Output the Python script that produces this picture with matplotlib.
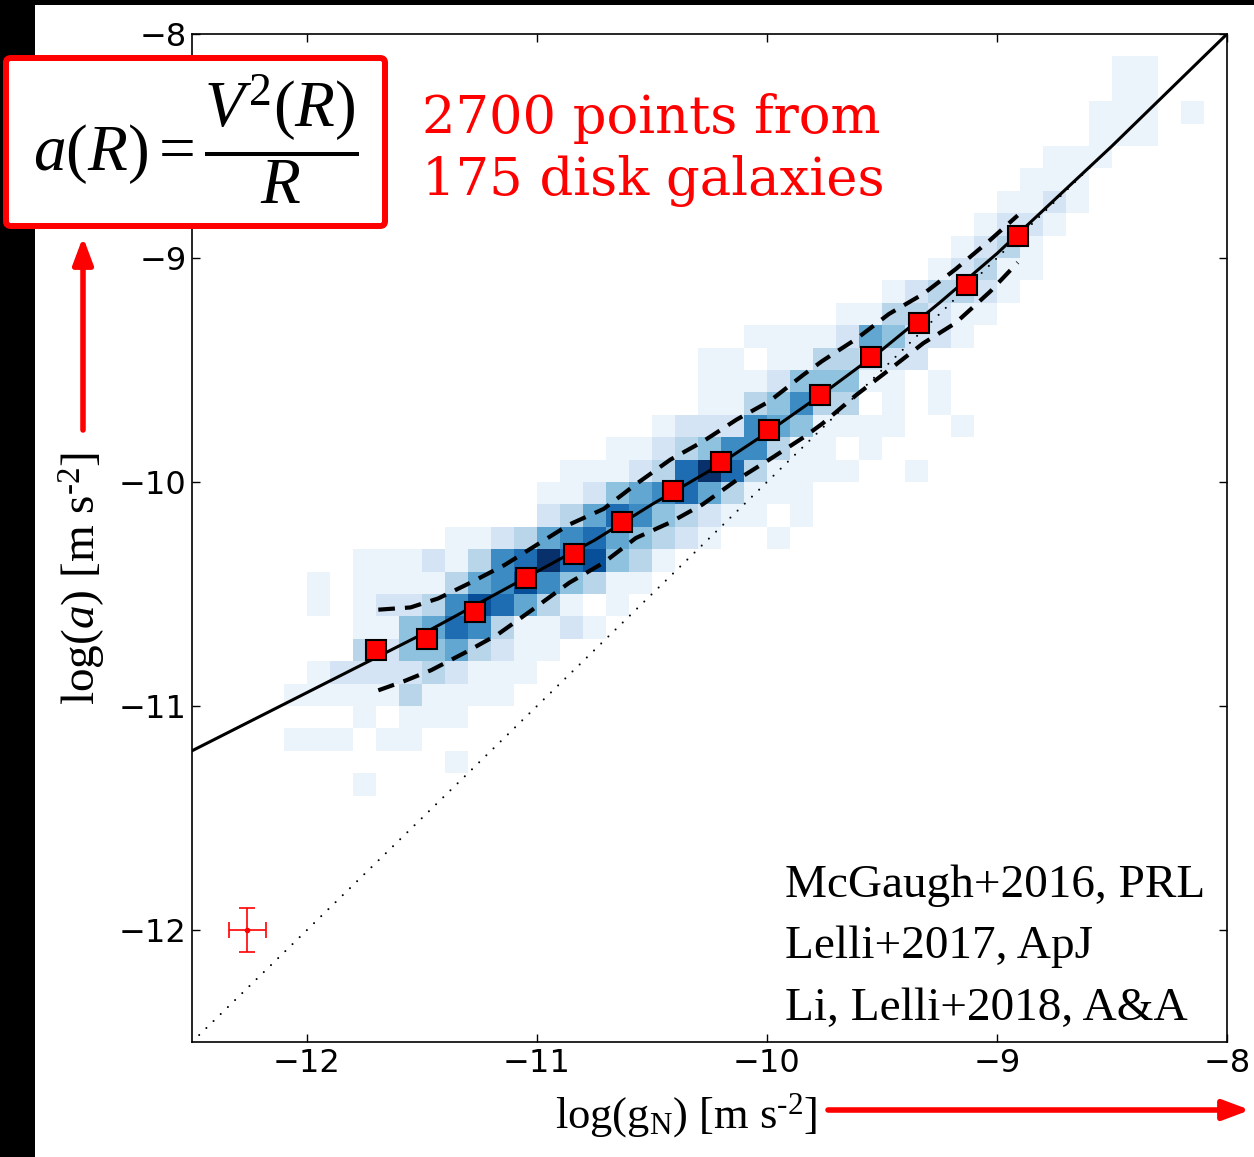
import numpy as np
import matplotlib.pyplot as plt
from matplotlib.patches import Rectangle, FancyBboxPatch, FancyArrowPatch

plt.rcParams['mathtext.fontset'] = 'custom'
plt.rcParams['mathtext.rm'] = 'Liberation Serif'
plt.rcParams['mathtext.it'] = 'Liberation Serif:italic'
plt.rcParams['mathtext.bf'] = 'Liberation Serif:bold'

# 2D histogram of the data points (shade level 0-9), 0.1 dex bins
# columns start at log(gN) = -12.3, rows start at log(a) = -8.0 going down
hist_x0 = -12.3
hist_y0 = -8.0
bin_w = 0.1
hist_rows = [
    "0000000000 0000000000 0000000000 0000000000 00",
    "0000000000 0000000000 0000000000 0000000011 00",
    "0000000000 0000000000 0000000000 0000000011 00",
    "0000000000 0000000000 0000000000 0000000111 01",
    "0000000000 0000000000 0000000000 0000000111 00",
    "0000000000 0000000000 0000000000 0000011100 00",
    "0000000000 0000000000 0000000000 0000111000 00",
    "0000000000 0000000000 0000000000 0001121000 00",
    "0000000000 0000000000 0000000000 0012210000 00",
    "0000000000 0000000000 0000000000 0123100000 00",
    "0000000000 0000000000 0000000000 1231100000 00",
    "0000000000 0000000000 0000000012 3321000000 00",
    "0000000000 0000000000 0000001133 2110000000 00",
    "0000000000 0000000000 0011112542 2100000000 00",
    "0000000000 0000000000 1101133222 0000000000 00",
    "0000000000 0000000000 1112444110 1000000000 00",
    "0000000000 0000000000 1134633010 1000000000 00",
    "0000000000 0000000012 2265411110 0100000000 00",
    "0000000000 0000001123 4663110100 0000000000 00",
    "0000000000 0000111237 9731111001 0000000000 00",
    "0000000000 0001124567 5311100000 0000000000 00",
    "0000000000 0002357643 2110100000 0000000000 00",
    "0000000001 1235675432 1001000000 0000000000 00",
    "0000011121 3679784310 0000000000 0000000000 00",
    "0001011113 5686431100 0000000000 0000000000 00",
    "0001012236 8753101000 0000000000 0000000000 00",
    "0000011457 6311210000 0000000000 0000000000 00",
    "0000032445 3211000000 0000000000 0000000000 00",
    "0001222232 1110000000 0000000000 0000000000 00",
    "0011111311 1100000000 0000000000 0000000000 00",
    "0000010111 0000000000 0000000000 0000000000 00",
    "0011101100 0000000000 0000000000 0000000000 00",
    "0000000001 0000000000 0000000000 0000000000 00",
    "0000010000 0000000000 0000000000 0000000000 00",
    "0000000000 0000000000 0000000000 0000000000 00",
]

# radial acceleration relation curve
curve_x = [-12.5, -12.25, -12.0, -11.75, -11.5, -11.25, -11.0, -10.75, -10.5,
           -10.25, -10.0, -9.75, -9.5, -9.25, -9.0, -8.75, -8.5, -8.25, -8.0]
curve_y = [-11.20, -11.07, -10.94, -10.81, -10.68, -10.54, -10.40, -10.26, -10.10,
           -9.95, -9.78, -9.60, -9.41, -9.20, -8.98, -8.74, -8.50, -8.25, -8.00]

# binned means (red squares)
bin_x = [-11.70, -11.48, -11.27, -11.05, -10.84, -10.63, -10.41, -10.20,
         -9.99, -9.77, -9.55, -9.34, -9.13, -8.91]
bin_y = [-10.75, -10.70, -10.58, -10.43, -10.32, -10.18, -10.04, -9.91,
         -9.77, -9.61, -9.44, -9.29, -9.12, -8.90]

# scatter envelopes (dashed)
up_x = [-11.69, -11.55, -11.43, -11.29, -11.14, -11.00, -10.86, -10.71, -10.57, -10.42, -10.28,
        -10.13, -9.99, -9.84, -9.76, -9.61, -9.47, -9.32, -9.18, -9.03, -8.91]
up_y = [-10.57, -10.56, -10.52, -10.45, -10.37, -10.28, -10.19, -10.12, -10.01, -9.90, -9.82,
        -9.72, -9.64, -9.52, -9.46, -9.36, -9.25, -9.16, -9.05, -8.92, -8.81]
lo_x = [-11.69, -11.58, -11.46, -11.31, -11.17, -11.02, -10.86, -10.71, -10.57, -10.42, -10.28,
        -10.13, -9.99, -9.84, -9.76, -9.61, -9.47, -9.32, -9.18, -9.03, -8.91]
lo_y = [-10.93, -10.89, -10.84, -10.76, -10.68, -10.57, -10.45, -10.36, -10.25, -10.18, -10.10,
        -9.99, -9.90, -9.80, -9.74, -9.61, -9.50, -9.38, -9.29, -9.15, -9.02]

# typical error bar
err_x, err_y = -12.26, -12.0
err_dx, err_dy = 0.08, 0.10

refs = ['McGaugh+2016, PRL', 'Lelli+2017, ApJ', 'Li, Lelli+2018, A&A']

fig = plt.figure(figsize=(12.54, 11.57), dpi=100)
fig.patch.set_facecolor('white')
# black strips at the left and top edges
fig.add_artist(Rectangle((0, 0), 35 / 1254, 1, transform=fig.transFigure,
                         facecolor='black', edgecolor='none', zorder=0))
fig.add_artist(Rectangle((0, 1 - 5 / 1157), 1, 5 / 1157, transform=fig.transFigure,
                         facecolor='black', edgecolor='none', zorder=0))

ax = fig.add_axes([192 / 1254, 1 - 1042 / 1157, 1035 / 1254, 1008 / 1157])

levels = np.array([[int(c) for c in r.replace(' ', '')] for r in hist_rows], dtype=float)
xe = hist_x0 + bin_w * np.arange(levels.shape[1] + 1)
ye = hist_y0 - bin_w * np.arange(levels.shape[0] + 1)
ax.pcolormesh(xe, ye, np.ma.masked_equal(levels, 0), cmap='Blues', vmin=0.5, vmax=9,
              zorder=1)

ax.plot([-12.5, -8], [-12.5, -8], color='black', lw=1.5, linestyle=(0, (0.01, 4.8)),
        dash_capstyle='round', zorder=2)
ax.plot(curve_x, curve_y, color='black', lw=2.2, zorder=3)
ax.plot(up_x, up_y, color='black', lw=3, dashes=(4, 2.4), zorder=3)
ax.plot(lo_x, lo_y, color='black', lw=3, dashes=(4, 2.4), zorder=3)
ax.plot(bin_x, bin_y, 's', color='red', ms=14.5, mec='black', mew=1.5, zorder=4)

ax.errorbar(err_x, err_y, xerr=err_dx, yerr=err_dy, fmt='o', color='red', ms=3,
            elinewidth=1.2, capsize=6, capthick=1.2, zorder=4)

ax.set_xlim(-12.5, -8)
ax.set_ylim(-12.5, -8)
ax.set_xticks([-12, -11, -10, -9, -8])
ax.set_yticks([-12, -11, -10, -9, -8])
ax.tick_params(direction='in', length=6, width=1, labelsize=23, pad=4,
               top=True, right=True)
for s in ax.spines.values():
    s.set_linewidth(1.2)

for t, yb in zip(refs, [897, 958, 1020]):
    fig.text(785 / 1254, 1 - yb / 1157, t, family='Liberation Serif', fontsize=34,
             va='baseline', ha='left')

fig.text(422 / 1254, 1 - 133 / 1157, '2700 points from', family='DejaVu Serif',
         fontsize=38, color='red', va='baseline')
fig.text(422 / 1254, 1 - 195 / 1157, '175 disk galaxies', family='DejaVu Serif',
         fontsize=38, color='red', va='baseline')

fig.text(686 / 1254, 1 - 1128 / 1157, 'log(g$_{\\mathrm{N}}$) [m s$^{\u2010\\mathrm{2}}$]',
         family='Liberation Serif', fontsize=32, ha='center', va='baseline')
fig.text(82 / 1254, 0.5, 'log($a$) [m s$^{\u2010\\mathrm{2}}$]', family='Liberation Serif',
         fontsize=34, rotation=90, ha='center', va='center')

# formula box
fig.add_artist(FancyBboxPatch((6 / 1254, 1 - 226 / 1157), 379 / 1254, 168 / 1157,
                              boxstyle='round,pad=0,rounding_size=0.004',
                              transform=fig.transFigure, facecolor='white',
                              edgecolor='red', lw=4.3, zorder=5))
fig.text(196 / 1254, 1 - 140 / 1157, r'$a(R)=\dfrac{V^{2}(R)}{R}$', fontsize=47,
         ha='center', va='center', zorder=6)

# arrows
fig.add_artist(FancyArrowPatch((83 / 1254, 1 - 430 / 1157), (83 / 1254, 1 - 237 / 1157),
                               transform=fig.transFigure, color='red', lw=4,
                               arrowstyle='-|>,head_length=0.8,head_width=0.3',
                               mutation_scale=20, shrinkA=0, shrinkB=0))
fig.add_artist(FancyArrowPatch((828 / 1254, 1 - 1110 / 1157), (1250 / 1254, 1 - 1110 / 1157),
                               transform=fig.transFigure, color='red', lw=4,
                               arrowstyle='-|>,head_length=0.8,head_width=0.3',
                               mutation_scale=20, shrinkA=0, shrinkB=0))

fig.savefig('out.png', dpi=100)
